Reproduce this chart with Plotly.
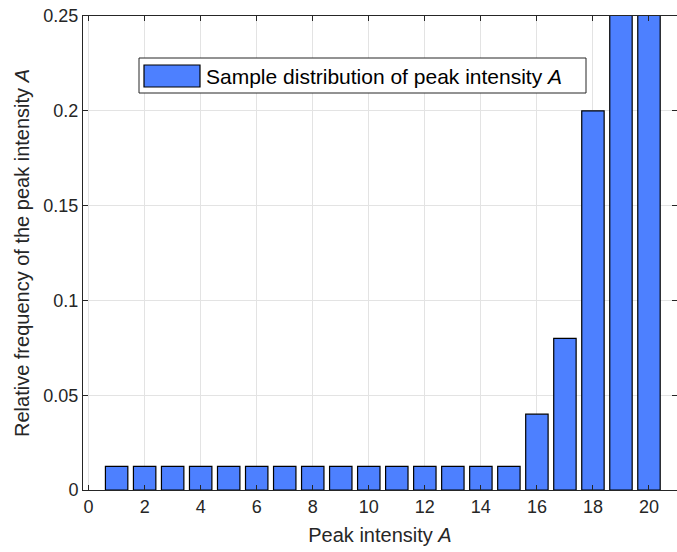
import plotly.graph_objects as go

# Relative frequency of each peak-intensity level
peak_levels = list(range(1, 21))
rel_freq = [0.0125] * 15 + [0.04, 0.08, 0.2, 0.26, 0.26]

x_ticks = list(range(0, 21, 2))
y_ticks = [0, 0.05, 0.1, 0.15, 0.2, 0.25]
y_tick_text = ["0", "0.05", "0.1", "0.15", "0.2", "0.25"]

legend_label = "Sample distribution of peak intensity <i>A</i>"
x_title = "Peak intensity <i>A</i>"
y_title = "Relative frequency of the peak intensity <i>A</i>"

BAR_COLOR = "rgb(77,128,255)"
INK = "#262626"
GRID = "#e3e3e3"
FONT = "Liberation Sans, Arial, sans-serif"

W, H = 677, 552
ML, MR, MT, MB = 83, 0, 16, 62
PW, PH = W - ML - MR, H - MT - MB


def px(x):
    return (x - ML) / PW


def py(y):
    return (H - MB - y) / PH


fig = go.Figure()
fig.add_trace(go.Bar(
    x=peak_levels, y=rel_freq, width=0.8,
    marker=dict(color=BAR_COLOR, line=dict(color="black", width=1.2)),
    showlegend=False,
))
# invisible trace driving the right-hand y axis (mirrored ticks only)
fig.add_trace(go.Scatter(x=[None], y=[None], yaxis="y2", showlegend=False))

axis_common = dict(
    showline=True, linecolor=INK, linewidth=1,
    ticks="inside", ticklen=5, tickcolor=INK, tickwidth=1,
    showgrid=True, gridcolor=GRID, gridwidth=1,
    zeroline=False,
    tickfont=dict(family=FONT, size=18, color=INK),
)

fig.update_layout(
    width=W, height=H,
    margin=dict(l=ML, r=MR, t=MT, b=MB, pad=0),
    paper_bgcolor="white", plot_bgcolor="white",
    font=dict(family=FONT, color=INK),
    bargap=0.2,
    xaxis=dict(
        **axis_common, range=[-0.2, 21.0], tickvals=x_ticks,
        mirror="ticks",
        title=dict(text=x_title, font=dict(family=FONT, size=20, color=INK), standoff=12),
        automargin=False,
    ),
    yaxis=dict(
        **axis_common, range=[0, 0.25], tickvals=y_ticks, ticktext=y_tick_text,
        title=dict(text=y_title, font=dict(family=FONT, size=20, color=INK), standoff=8),
        automargin=False,
    ),
    yaxis2=dict(
        overlaying="y", side="right", matches="y", range=[0, 0.25],
        tickvals=y_ticks, showticklabels=False, showgrid=False, zeroline=False,
        showline=False, ticks="inside", ticklen=5, tickcolor=INK,
    ),
)

# legend box with a wide swatch
fig.add_shape(type="rect", xref="paper", yref="paper",
              x0=px(139), x1=px(586), y0=py(93), y1=py(58),
              fillcolor="white", line=dict(color=INK, width=1), layer="above")
fig.add_shape(type="rect", xref="paper", yref="paper",
              x0=px(144), x1=px(200), y0=py(87), y1=py(65),
              fillcolor=BAR_COLOR, line=dict(color="black", width=1.2), layer="above")
fig.add_annotation(xref="paper", yref="paper", x=px(204), y=py(76),
                   xanchor="left", yanchor="middle", showarrow=False,
                   text=legend_label, font=dict(family=FONT, size=21, color="black"))

fig.write_html("out.html")
